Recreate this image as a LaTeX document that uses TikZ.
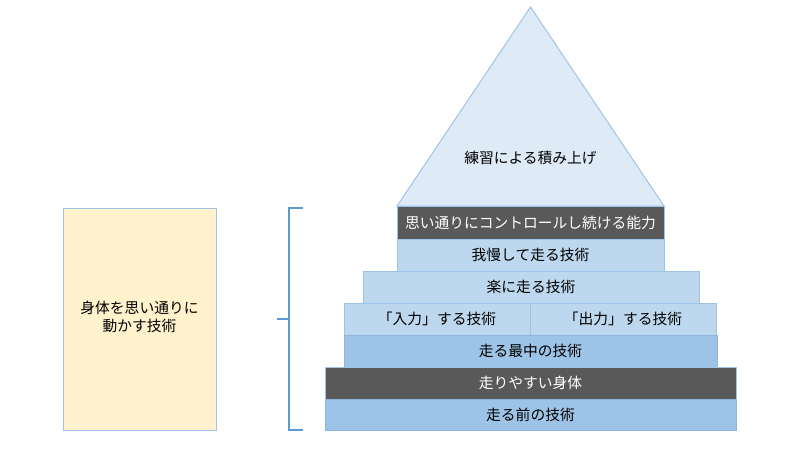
\documentclass[tikz,border=0pt]{standalone}
\usepackage{fontspec}
\newfontfamily\jpfont{Noto Sans CJK JP}
\definecolor{edgeblue}{HTML}{9DC3E6}
\definecolor{paleblue}{HTML}{DEEBF7}
\definecolor{lightblue}{HTML}{BDD7EE}
\definecolor{midblue}{HTML}{9DC3E6}
\definecolor{barblue}{HTML}{8FB4DC}
\definecolor{darkbar}{HTML}{595959}
\definecolor{paleyellow}{HTML}{FFF2CC}
\definecolor{bracketblue}{HTML}{5B9BD5}
\tikzset{
  lightbar/.style={fill=lightblue,draw=edgeblue,line width=0.7pt},
  midbar/.style={fill=midblue,draw=barblue,line width=0.7pt},
  darkbox/.style={fill=darkbar,draw=edgeblue,line width=0.7pt},
  label/.style={font=\jpfont\fontsize{10.5pt}{13pt}\selectfont,text=black,align=center},
  whitelabel/.style={label,text=white}
}
\begin{document}
\begin{tikzpicture}[x=0.025cm,y=-0.025cm]
\useasboundingbox (0,0) rectangle (800,450);

\coordinate (top) at (530.5,7);
\coordinate (baseL) at (397,206);
\coordinate (baseR) at (664,206);

% triangle
\draw[fill=paleblue,draw=edgeblue,line width=0.7pt] (top)--(baseL)--(baseR)--cycle;
\node[label] (tsumiage) at (530.5,158) {練習による積み上げ};

% steps of the pyramid
\draw[darkbox] (397,206) rectangle (664,239);
\node[whitelabel] (control) at (530.5,222.5) {思い通りにコントロールし続ける能力};

\draw[lightbar] (397,239) rectangle (664,271);
\node[label] (gaman) at (530.5,255) {我慢して走る技術};

\draw[lightbar] (363,271) rectangle (699,303);
\node[label] (raku) at (531,287) {楽に走る技術};

\draw[lightbar] (344,303) rectangle (530,335);
\draw[lightbar] (530,303) rectangle (716,335);
\node[label] (nyuryoku) at (437,319) {「入力」する技術};
\node[label] (shutsuryoku) at (623,319) {「出力」する技術};

\draw[midbar] (344,335) rectangle (717,367);
\node[label] (saichu) at (530.5,351) {走る最中の技術};

\draw[darkbox] (325,367) rectangle (736,399);
\node[whitelabel] (karada) at (530.5,383) {走りやすい身体};

\draw[midbar] (325,399) rectangle (736,430);
\node[label] (mae) at (530.5,414.5) {走る前の技術};

% left box
\draw[fill=paleyellow,draw=edgeblue,line width=0.7pt] (63,208) rectangle (216,430);
\node[label] (shintai) at (139.5,317) {身体を思い通りに\\動かす技術};

% bracket
\draw[bracketblue,line width=1.4pt] (303,208)--(289,208)--(289,430)--(303,430);
\draw[bracketblue,line width=1.4pt] (277,319)--(289,319);
\end{tikzpicture}
\end{document}
